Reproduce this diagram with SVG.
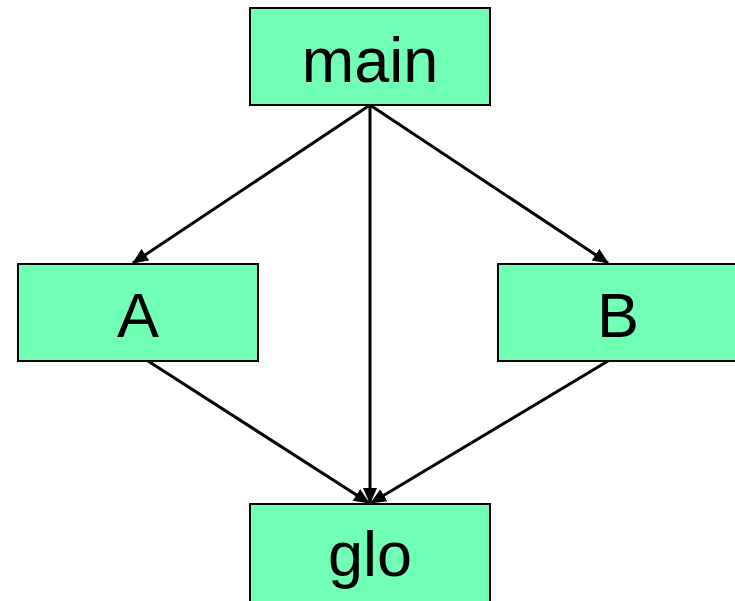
<svg xmlns="http://www.w3.org/2000/svg" width="735" height="601" viewBox="0 0 735 601">
<defs>
<style>
.node rect{fill:#70FFB4;stroke:#000;stroke-width:2}
.node text{font-family:"Liberation Sans",Arial,sans-serif;font-size:63px;fill:#000;text-anchor:middle}
.edge{stroke:#000;stroke-width:3;fill:none;marker-end:url(#ah)}
</style>
<marker id="ah" markerWidth="16" markerHeight="14" refX="15" refY="7" orient="auto" markerUnits="userSpaceOnUse">
<path d="M0,0 L16,7 L0,14 Z" fill="#000"/>
</marker>
</defs>
<g id="connectors">
<line class="edge" x1="370" y1="105" x2="133" y2="263"/>
<line class="edge" x1="370" y1="105" x2="370" y2="503"/>
<line class="edge" x1="370" y1="105" x2="608" y2="263"/>
<line class="edge" x1="148" y1="361" x2="369" y2="503"/>
<line class="edge" x1="608" y1="361" x2="371" y2="503"/>
</g>
<g id="main" class="node"><rect x="250" y="8" width="240" height="97"/><text x="370" y="82">main</text></g>
<g id="A" class="node"><rect x="18" y="264" width="240" height="97"/><text x="138" y="337">A</text></g>
<g id="B" class="node"><rect x="498" y="264" width="240" height="97"/><text x="618" y="337">B</text></g>
<g id="glo" class="node"><rect x="250" y="504" width="240" height="100"/><text x="370" y="576">glo</text></g>
</svg>
